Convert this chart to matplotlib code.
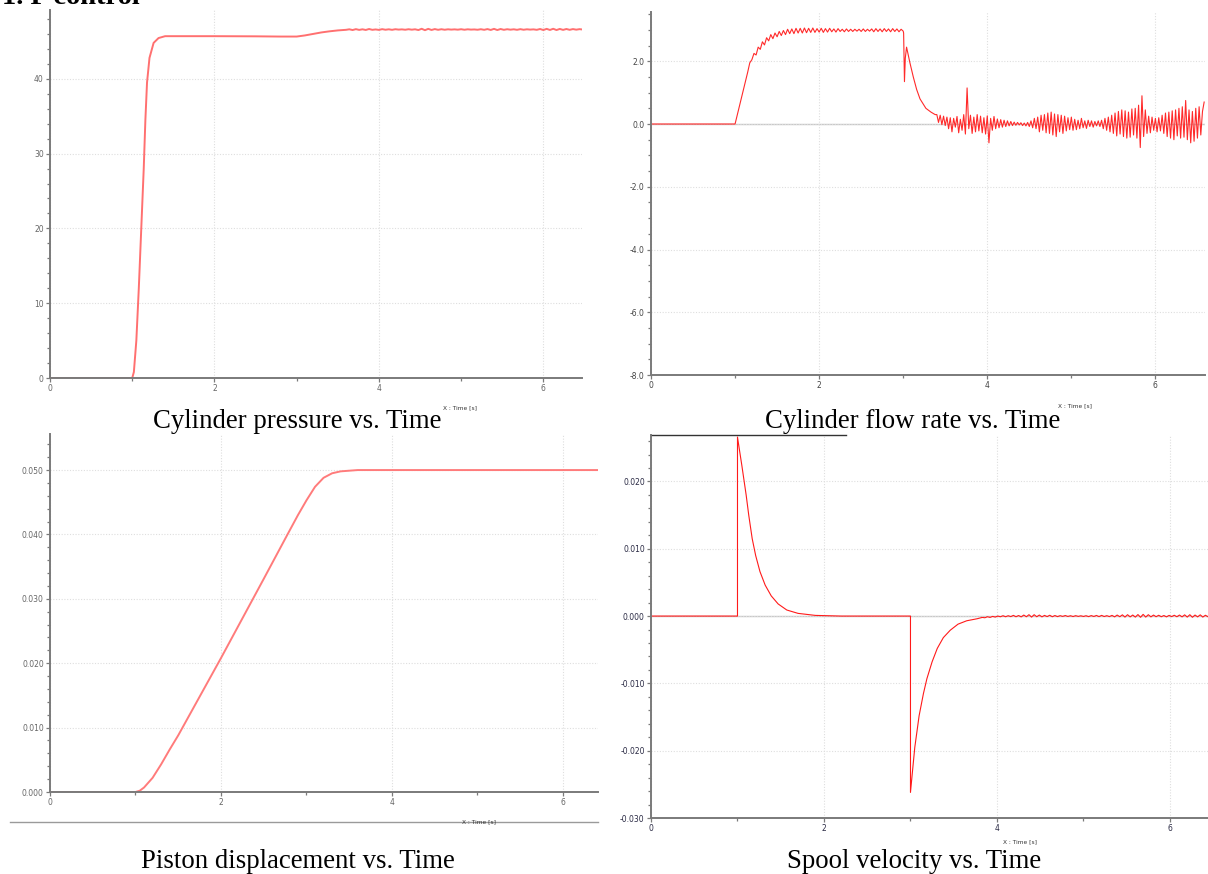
import numpy as np
import matplotlib
matplotlib.use("Agg")
import matplotlib.pyplot as plt
from matplotlib.ticker import MultipleLocator, FormatStrFormatter

# ---------------- data ----------------
# Cylinder pressure [bar] vs time [s]
press_t = [0.0, 1.0, 1.02, 1.05, 1.08, 1.11, 1.14, 1.16, 1.18, 1.21, 1.26, 1.32, 1.40,
           2.0, 2.5, 2.8, 3.0, 3.1, 3.2, 3.3, 3.4, 3.5]
press_v = [0.0, 0.0, 0.8, 5.0, 12.0, 20.0, 28.0, 34.5, 39.5, 42.8, 44.8, 45.45, 45.7,
           45.7, 45.68, 45.65, 45.65, 45.8, 46.0, 46.2, 46.35, 46.47]
press_tail_t0 = 3.60
press_tail_dt = 0.04
press_tail_v = [46.55, 46.62, 46.52, 46.64, 46.54, 46.62, 46.53, 46.66, 46.55, 46.60,
                46.54, 46.64, 46.56, 46.62, 46.55, 46.63, 46.58, 46.61, 46.56, 46.63,
                46.57, 46.62, 46.52, 46.69, 46.50, 46.68, 46.53, 46.65, 46.55, 46.63,
                46.56, 46.62, 46.58, 46.61, 46.57, 46.63, 46.56, 46.62, 46.58, 46.60,
                46.56, 46.63, 46.55, 46.65, 46.53, 46.68, 46.52, 46.66, 46.55, 46.63,
                46.57, 46.62, 46.55, 46.64, 46.56, 46.62, 46.58, 46.61, 46.55, 46.66,
                46.52, 46.68, 46.53, 46.69, 46.52, 46.67, 46.54, 46.66, 46.55, 46.65,
                46.57, 46.64]

# Cylinder flow rate vs time
flow_t = [0.0, 1.0, 1.05, 1.10, 1.15, 1.175]
flow_v = [0.0, 0.0, 0.55, 1.10, 1.65, 1.95]
flow_plat_t0 = 1.20
flow_plat_dt = 0.025
flow_plat_v = [2.05, 2.25, 2.20, 2.45, 2.38, 2.62, 2.52, 2.75, 2.65, 2.85,
               2.72, 2.90, 2.78, 2.95, 2.82, 2.98, 2.85, 3.02, 2.88, 3.03,
               2.88, 3.05, 2.90, 3.05, 2.90, 3.06, 2.91, 3.05, 2.92, 3.06,
               2.92, 3.04, 2.93,
               3.05, 2.92, 3.04, 2.93, 3.05, 2.94, 3.03, 2.93, 3.04, 2.95,
               3.02, 2.94, 3.03, 2.95, 3.02, 2.95, 3.02, 2.96, 3.02, 2.95,
               3.03, 2.95, 3.02, 2.96, 3.03, 2.94, 3.04, 2.95, 3.03, 2.94,
               3.04, 2.95, 3.03, 2.94, 3.04, 2.95, 3.03, 2.94, 3.02, 2.96]
flow_drop_t = [3.005, 3.015, 3.025, 3.04, 3.08, 3.12, 3.16, 3.20, 3.27, 3.33, 3.38]
flow_drop_v = [2.90, 1.35, 2.10, 2.45, 1.95, 1.50, 1.10, 0.80, 0.50, 0.38, 0.30]
flow_tail_t0 = 3.40
flow_tail_dt = 0.02
flow_tail_v = [0.30, 0.05, 0.28, -0.02, 0.25, -0.05, 0.22, -0.15, 0.20, -0.25,
               0.18, -0.10, 0.24, -0.28, 0.15,
               -0.20, 0.30, -0.32, 1.15, -0.15, 0.28, -0.30, 0.22, -0.25, 0.30,
               -0.22, 0.25, -0.28, 0.20, -0.32, 0.26, -0.60, 0.18, -0.20, 0.24,
               -0.15, 0.16, -0.12, 0.14, -0.10, 0.12, -0.08, 0.10, -0.06, 0.08,
               -0.05, 0.06, -0.04, 0.05, -0.03, 0.04, -0.05, 0.03, -0.06, 0.05,
               -0.08, 0.10, -0.12, 0.18, -0.15, 0.22, -0.25, 0.28, -0.20, 0.30,
               -0.28, 0.35, -0.30, 0.38, -0.35, 0.32, -0.40, 0.30, -0.25, 0.28,
               -0.30, 0.25, -0.22, 0.20, -0.18, 0.22, -0.20, 0.15, -0.18, 0.12,
               -0.15, 0.18, -0.12, 0.10, -0.14, 0.12, -0.08, 0.10, -0.10, 0.08,
               -0.06, 0.10, -0.08, 0.12, -0.15, 0.18, -0.20, 0.22, -0.25, 0.28,
               -0.30, 0.35, -0.38, 0.40, -0.32, 0.45, -0.40, 0.42, -0.45, 0.38,
               -0.42, 0.48, -0.35, 0.50, -0.45, 0.60, -0.75, 0.90, -0.40, 0.45,
               -0.30, 0.25, -0.28, 0.22, -0.20, 0.18, -0.25, 0.20, -0.22, 0.28,
               -0.30, 0.35, -0.40, 0.38, -0.45, 0.42, -0.50, 0.45, -0.38, 0.50,
               -0.45, 0.55, -0.42, 0.75, -0.50, 0.45, -0.60, 0.40, -0.55, 0.50,
               -0.45, 0.55, -0.35, 0.40, 0.70]

# Piston displacement [m] vs time
disp_t = [0.0, 1.0, 1.05, 1.10, 1.20, 1.30, 1.40, 1.50, 2.0, 2.5, 2.77, 2.90, 3.0,
          3.10, 3.20, 3.30, 3.40, 3.60, 4.0, 6.41]
disp_v = [0.0, 0.0, 0.0002, 0.0007, 0.0022, 0.0043, 0.0066, 0.0088, 0.0208, 0.0331,
          0.0398, 0.0430, 0.0453, 0.0474, 0.0488, 0.0495, 0.0498, 0.0500, 0.0500, 0.0500]

# Spool velocity vs time
spool_t = [0.0, 1.0, 1.0, 1.02, 1.05, 1.075, 1.10, 1.13, 1.17, 1.21, 1.26, 1.32, 1.39,
           1.47, 1.57, 1.70, 1.90, 2.20, 3.0, 3.0, 3.02, 3.05, 3.10, 3.15, 3.19, 3.25,
           3.31, 3.38, 3.46, 3.55, 3.65, 3.77]
spool_v = [0.0, 0.0, 0.0266, 0.0249, 0.0224, 0.0202, 0.0180, 0.0150, 0.0115, 0.0090,
           0.0066, 0.0046, 0.0030, 0.0018, 0.0009, 0.0004, 0.0001, 0.0, 0.0, -0.0262,
           -0.0235, -0.0195, -0.0148, -0.0115, -0.0093, -0.0068, -0.0048, -0.0032,
           -0.0021, -0.0012, -0.0007, -0.0004]
spool_tail_t0 = 3.80
spool_tail_dt = 0.03
spool_tail_e4 = [-3, -2, -2.5, -1, -2, -0.5, -1.5, 0, -1, 0.5,
                 -1, 0.5, -0.8, 1, -1, 0.8, -1.2, 1.5, -1, 2,
                 -1.5, 2, -1, 1.5, -1.2, 1, -0.8, 1.2, -1, 0.8,
                 -0.8, 0.6, -0.5, 0.8, -0.6, 0.5, -0.7, 0.6, -0.5, 0.4,
                 -0.6, 0.5, -0.8, 0.7, -0.6, 0.9, -0.8, 1, -0.7, 0.6,
                 -0.8, 1, -1.2, 1.5, -1, 1.8, -1.5, 2, -1.2, 1.5,
                 -1.5, 2.2, -1.8, 2.5, -1.5, 2, -1.2, 1.5, -1, 1.2,
                 -1, 0.8, -1.2, 1, -0.8, 1.2, -1, 1.5, -1.2, 1.8,
                 -1.5, 2, -1.8, 1.5, -1.2, 1.8, -1.5, 1.2, -1]

captions = ["Cylinder pressure vs. Time", "Cylinder flow rate vs. Time",
            "Piston displacement vs. Time", "Spool velocity vs. Time"]
heading = "1. P control"
xlabel_txt = "X : Time [s]"


def seq(t0, dt, vals):
    return list(np.round(t0 + dt * np.arange(len(vals)), 4))


# ---------------- figure ----------------
W, H = 1208, 874
fig = plt.figure(figsize=(W / 100, H / 100), dpi=100)
fig.patch.set_facecolor("white")


def ax_px(left, top, right, bottom):
    return fig.add_axes([left / W, 1 - bottom / H, (right - left) / W, (bottom - top) / H])


def style(ax, xlim, ylim, ymaj, ymin, fmt, labcolor, zero_solid=False):
    ax.set_xlim(*xlim)
    ax.set_ylim(*ylim)
    for s in ["top", "right"]:
        ax.spines[s].set_visible(False)
    for s in ["left", "bottom"]:
        ax.spines[s].set_color("#7a7a7a")
        ax.spines[s].set_linewidth(1.4)
    ax.xaxis.set_major_locator(MultipleLocator(2))
    ax.xaxis.set_minor_locator(MultipleLocator(1))
    ax.yaxis.set_major_locator(MultipleLocator(ymaj))
    ax.yaxis.set_minor_locator(MultipleLocator(ymin))
    ax.yaxis.set_major_formatter(FormatStrFormatter(fmt))
    ax.xaxis.set_major_formatter(FormatStrFormatter("%d"))
    ax.tick_params(which="both", direction="out", color="#7a7a7a", width=0.9,
                   labelsize=5.5, labelcolor=labcolor, pad=1.5)
    ax.tick_params(which="major", length=3)
    ax.tick_params(which="minor", length=2)
    ax.grid(True, which="major", ls=(0, (1, 1.5)), color="#dedede", lw=0.8)
    if zero_solid:
        ax.axhline(0, color="#c8c8c8", lw=1.0, zorder=1)


# Top-left: pressure
ax1 = ax_px(50, 10, 582, 378)
style(ax1, (0, 6.47), (0, 49.2), 10, 2, "%d", "#666666")
p_t = press_t + seq(press_tail_t0, press_tail_dt, press_tail_v) + [6.47]
p_v = press_v + press_tail_v + [46.6]
ax1.plot(p_t, p_v, color="#ff7070", lw=1.4)

# Top-right: flow rate
ax2 = ax_px(651, 12, 1205, 375)
style(ax2, (0, 6.59), (-8.0, 3.57), 2, 0.5, "%.1f", "#444444", zero_solid=True)
f_t = flow_t + seq(flow_plat_t0, flow_plat_dt, flow_plat_v) + flow_drop_t + seq(flow_tail_t0, flow_tail_dt, flow_tail_v)
f_v = flow_v + flow_plat_v + flow_drop_v + flow_tail_v
ax2.plot(f_t, f_v, color="#ff2a2a", lw=0.8)

# Bottom-left: displacement
ax3 = ax_px(50, 434, 598, 792)
style(ax3, (0, 6.41), (0, 0.0556), 0.01, 0.002, "%.3f", "#666666")
ax3.plot(disp_t, disp_v, color="#ff7b7b", lw=1.4)

# Bottom-right: spool velocity
ax4 = ax_px(651, 435, 1208, 818)
style(ax4, (0, 6.44), (-0.030, 0.0269), 0.01, 0.002, "%.3f", "#2a2a44", zero_solid=True)
s_t = spool_t + seq(spool_tail_t0, spool_tail_dt, spool_tail_e4)
s_v = spool_v + [v * 1e-4 for v in spool_tail_e4]
ax4.plot(s_t, s_v, color="#ff1a1a", lw=0.8)

# tiny x-axis labels
for (x, y) in [(460, 408), (1075, 406), (479, 822), (1020, 842)]:
    fig.text(x / W, 1 - y / H, xlabel_txt, fontsize=4.2, color="#333333",
             ha="center", va="center")

# captions
serif = ["Liberation Serif", "DejaVu Serif"]
for (x, y), txt in zip([(297, 428), (913, 428), (298, 868), (914, 868)], captions):
    fig.text(x / W, 1 - y / H, txt, fontsize=19.3, family=serif,
             ha="center", va="baseline", color="black")

fig.text(2 / W, 1 - 4 / H, heading, fontsize=20.5, family=serif, weight="bold",
         ha="left", va="baseline", color="black")

# decorative lines from the composite screenshots
fig.add_artist(plt.Line2D([10 / W, 598 / W], [1 - 822 / H, 1 - 822 / H],
                          color="#9a9a9a", lw=1.0))
fig.add_artist(plt.Line2D([652 / W, 846 / W], [1 - 435 / H, 1 - 435 / H],
                          color="#333333", lw=1.0))

fig.savefig("out.png", dpi=100, facecolor="white")
